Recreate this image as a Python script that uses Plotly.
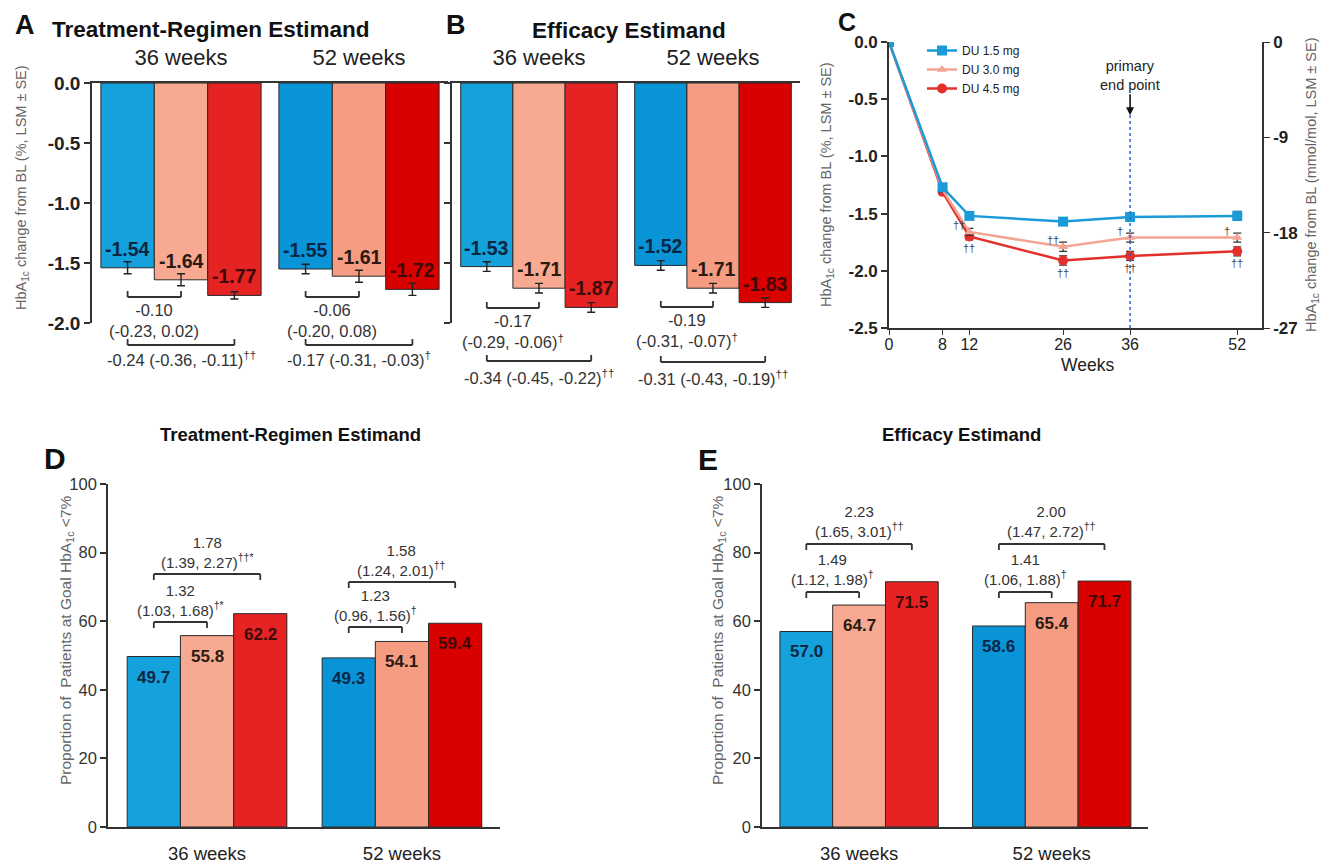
import plotly.graph_objects as go

W, H = 1329, 862
OFF = 8  # page body margin of the html page


def PX(p): return (p - OFF) / W
def PY(p): return 1 - (p - OFF) / H


FONT = "Arial, Liberation Sans, Helvetica, sans-serif"

# ---------------- data ----------------
timepoints = ["36 weeks", "52 weeks"]
dose_names = ["DU 1.5 mg", "DU 3.0 mg", "DU 4.5 mg"]

# Panel A: treatment-regimen estimand, HbA1c change (%)
a_du15 = [-1.54, -1.55]
a_du30 = [-1.64, -1.61]
a_du45 = [-1.77, -1.72]
a_se15 = [0.05, 0.04]
a_se30 = [0.05, 0.05]
a_se45 = [0.03, 0.05]
a_cmp30 = ["-0.10<br>(-0.23, 0.02)", "-0.06<br>(-0.20, 0.08)"]
a_cmp45 = ["-0.24 (-0.36, -0.11)<sup>††</sup>", "-0.17 (-0.31, -0.03)<sup>†</sup>"]

# Panel B: efficacy estimand, HbA1c change (%)
b_du15 = [-1.53, -1.52]
b_du30 = [-1.71, -1.71]
b_du45 = [-1.87, -1.83]
b_se15 = [0.04, 0.04]
b_se30 = [0.04, 0.04]
b_se45 = [0.04, 0.04]
b_cmp30 = ["-0.17<br>(-0.29, -0.06)<sup>†</sup>", "-0.19<br>(-0.31, -0.07)<sup>†</sup>"]
b_cmp45 = ["-0.34 (-0.45, -0.22)<sup>††</sup>", "-0.31 (-0.43, -0.19)<sup>††</sup>"]

hba_yticks = [0.0, -0.5, -1.0, -1.5, -2.0]
hba_yticktext = ["0.0", "-0.5", "-1.0", "-1.5", "-2.0"]

# Panel C: time course
weeks = [0, 8, 12, 26, 36, 52]
c_du15 = [0.0, -1.27, -1.52, -1.57, -1.53, -1.52]
c_du30 = [0.0, -1.29, -1.66, -1.79, -1.71, -1.71]
c_du45 = [0.0, -1.31, -1.70, -1.91, -1.87, -1.83]
c_se15 = [0.0, 0.02, 0.03, 0.03, 0.03, 0.04]
c_se30 = [0.0, 0.02, 0.03, 0.04, 0.04, 0.04]
c_se45 = [0.0, 0.02, 0.03, 0.04, 0.04, 0.04]
c_yticks = [0.0, -0.5, -1.0, -1.5, -2.0, -2.5]
c_yticktext = ["0.0", "-0.5", "-1.0", "-1.5", "-2.0", "-2.5"]
c_y2ticks = [0, -9, -18, -27]
c_y2ticktext = ["0", "-9", "-18", "-27"]
c_sig30 = ["", "", "††", "††", "†", "†"]
c_sig45 = ["", "", "††", "††", "††", "††"]

# Panel D: treatment-regimen estimand, % at goal HbA1c <7%
d_du15 = [49.7, 49.3]
d_du30 = [55.8, 54.1]
d_du45 = [62.2, 59.4]
d_cmp30 = ["1.32<br>(1.03, 1.68)<sup>†*</sup>", "1.23<br>(0.96, 1.56)<sup>†</sup>"]
d_cmp45 = ["1.78<br>(1.39, 2.27)<sup>††*</sup>", "1.58<br>(1.24, 2.01)<sup>††</sup>"]

# Panel E: efficacy estimand, % at goal HbA1c <7%
e_du15 = [57.0, 58.6]
e_du30 = [64.7, 65.4]
e_du45 = [71.5, 71.7]
e_cmp30 = ["1.49<br>(1.12, 1.98)<sup>†</sup>", "1.41<br>(1.06, 1.88)<sup>†</sup>"]
e_cmp45 = ["2.23<br>(1.65, 3.01)<sup>††</sup>", "2.00<br>(1.47, 2.72)<sup>††</sup>"]

pct_yticks = [0, 20, 40, 60, 80, 100]
pct_yticktext = ["0", "20", "40", "60", "80", "100"]

# ---------------- styles ----------------
bar_colors = [["#15a1dc", "#0a94d8"], ["#f8a991", "#f69c83"], ["#e42322", "#d90000"]]
label_colors = ["#0b2744", "#2b1a12", "#3d0a08"]
line_colors = ["#1b9ad8", "#f4a493", "#e3302a"]
symbols = ["square", "triangle-up", "circle"]
AXC = "#333333"

fig = go.Figure()


def add_bars(xa, ya, series, ses, w, fmt, lab_size, negative):
    for k, vals in enumerate(series):
        off = (k - 1.5) * w
        err = dict(type="data", array=ses[k], color="#222", thickness=1.4, width=4) if ses else None
        fig.add_trace(go.Bar(
            x=timepoints, y=vals, width=w, offset=off, xaxis=xa, yaxis=ya,
            marker=dict(color=bar_colors[k], line=dict(color="#2a2a2a", width=1)),
            error_y=err, showlegend=False, hoverinfo="skip", name=dose_names[k]))
        for i, v in enumerate(vals):
            fig.add_annotation(
                x=i + off + w / 2, y=v, xref=xa, yref=ya, text=fmt.format(v),
                showarrow=False, yanchor="bottom" if negative else "top",
                yshift=6 if negative else -9,
                font=dict(family=FONT, size=lab_size, color=label_colors[k], weight=700))


def bracket(xa, x0, x1, yp, leg):
    ln = dict(color="#333", width=1.8)
    fig.add_shape(type="line", xref=xa, yref="paper", x0=x0, x1=x1, y0=PY(yp), y1=PY(yp), line=ln)
    for xx in (x0, x1):
        fig.add_shape(type="line", xref=xa, yref="paper", x0=xx, x1=xx, y0=PY(yp), y1=PY(yp + leg), line=ln)


def cmp_text(xa, x, yp, text, anchor, size):
    fig.add_annotation(x=x, y=PY(yp), xref=xa, yref="paper", text=text, showarrow=False,
                       yanchor=anchor, font=dict(family=FONT, size=size, color="#333"))


# ---------------- Panel A & B ----------------
WAB = 0.3
add_bars("x", "y", [a_du15, a_du30, a_du45], [a_se15, a_se30, a_se45], WAB, "{:.2f}", 19.5, True)
add_bars("x2", "y2", [b_du15, b_du30, b_du45], [b_se15, b_se30, b_se45], WAB, "{:.2f}", 19.5, True)

a_br1 = [297, 297]
a_br2 = [345, 345]
b_br1 = [308, 307]
b_br2 = [361, 362]
for i in range(2):
    bracket("x", i - WAB, i, a_br1[i], -6)
    cmp_text("x", i - WAB / 2, a_br1[i] + 2, a_cmp30[i], "top", 16.5)
    bracket("x", i - WAB, i + WAB, a_br2[i], -6)
    cmp_text("x", i, a_br2[i] + 2, a_cmp45[i], "top", 16.5)
    bracket("x2", i - WAB, i, b_br1[i], -6)
    cmp_text("x2", i - WAB / 2, b_br1[i] + 2, b_cmp30[i], "top", 16.5)
    bracket("x2", i - WAB, i + WAB, b_br2[i], -6)
    cmp_text("x2", i, b_br2[i] + 4, b_cmp45[i], "top", 16.5)

# ---------------- Panel C ----------------
# drawn highest dose first so the DU 1.5 mg line lies on top (as in the source figure)
c_series = [c_du15, c_du30, c_du45]
c_ses = [c_se15, c_se30, c_se45]
for k in (2, 1, 0):
    fig.add_trace(go.Scatter(
        x=weeks, y=c_series[k], xaxis="x3", yaxis="y3", mode="lines+markers", name=dose_names[k],
        line=dict(color=line_colors[k], width=2.5),
        marker=dict(symbol=symbols[k], size=10 if k != 1 else 9, color=line_colors[k]),
        error_y=dict(type="data", array=c_ses[k], color="#333", thickness=1.2, width=4),
        hoverinfo="skip"))
fig.add_trace(go.Scatter(x=[], y=[], xaxis="x3", yaxis="y4", showlegend=False, hoverinfo="skip"))

fig.add_shape(type="line", xref="x3", yref="y3", x0=36, x1=36, y0=-2.5, y1=-0.6,
              line=dict(color="#2b63c4", width=1.5, dash="dot"))
fig.add_annotation(x=36, y=-0.64, xref="x3", yref="y3", text="primary<br>end point",
                   showarrow=True, arrowhead=2, arrowsize=1, arrowwidth=1.6, arrowcolor="#111",
                   ax=0, ay=-40, font=dict(family=FONT, size=14.5, color="#222"))
for i, wk in enumerate(weeks):
    if c_sig30[i]:
        fig.add_annotation(x=wk, y=c_du30[i], xref="x3", yref="y3", text=c_sig30[i], showarrow=False,
                           xshift=-10, yshift=7, font=dict(family=FONT, size=11, color="#444"))
    if c_sig45[i]:
        fig.add_annotation(x=wk, y=c_du45[i], xref="x3", yref="y3", text=c_sig45[i], showarrow=False,
                           yshift=-12, font=dict(family=FONT, size=11, color="#444"))

# ---------------- Panel D & E ----------------
WD, WE = 0.273, 0.274
add_bars("x4", "y5", [d_du15, d_du30, d_du45], None, WD, "{:.1f}", 17, False)
add_bars("x5", "y6", [e_du15, e_du30, e_du45], None, WE, "{:.1f}", 17, False)

d_br1 = [622, 627]
d_br2 = [574, 582]
e_br1 = [592, 592]
e_br2 = [544, 544]
for i in range(2):
    bracket("x4", i - WD, i, d_br1[i], 6)
    cmp_text("x4", i - WD / 2, d_br1[i] - 1, d_cmp30[i], "bottom", 15)
    bracket("x4", i - WD, i + WD, d_br2[i], 6)
    cmp_text("x4", i, d_br2[i] - 1, d_cmp45[i], "bottom", 15)
    bracket("x5", i - WE, i, e_br1[i], 6)
    cmp_text("x5", i - WE / 2, e_br1[i] - 2, e_cmp30[i], "bottom", 15)
    bracket("x5", i - WE, i + WE, e_br2[i], 6)
    cmp_text("x5", i, e_br2[i] - 2, e_cmp45[i], "bottom", 15)


# ---------------- axes ----------------
def xbar(dom, rng, side, size, standoff):
    return dict(domain=[PX(dom[0]), PX(dom[1])], range=rng, type="category", side=side,
                showline=True, linecolor=AXC, linewidth=1.6, ticks="", showgrid=False,
                zeroline=False, ticklabelstandoff=standoff, automargin=False,
                tickfont=dict(family=FONT, size=size, color="#222"), fixedrange=True)


def yax(dom, rng, vals, text, size, bold, show=True, color="#222"):
    return dict(domain=[PY(dom[1]), PY(dom[0])], range=rng, tickvals=vals, ticktext=text,
                showline=True, linecolor=AXC, linewidth=1.6, ticks="outside", ticklen=6,
                tickcolor=AXC, tickwidth=1.5, showgrid=False, zeroline=False,
                showticklabels=show, automargin=False,
                tickfont=dict(family=FONT, size=size, color=color, weight=700 if bold else 400))


fig.update_layout(
    xaxis=dict(xbar((92, 448), [-0.5, 1.5], "top", 22, 7), anchor="y"),
    yaxis=dict(yax((83, 323), [-2.0, 0.0], hba_yticks, hba_yticktext, 19, True), anchor="x"),
    xaxis2=dict(xbar((452, 800), [-0.5, 1.5], "top", 22, 7), anchor="y2"),
    yaxis2=dict(yax((83, 323), [-2.0, 0.0], hba_yticks, hba_yticktext, 19, True, show=False), anchor="x2"),
    xaxis3=dict(domain=[PX(889), PX(1262)], range=[0, 55.7], tickvals=weeks, anchor="y3",
                showline=True, linecolor=AXC, linewidth=1.6, ticks="outside", ticklen=5,
                tickcolor=AXC, showgrid=False, zeroline=False, automargin=False,
                ticklabelstandoff=-4,
                tickfont=dict(family=FONT, size=16, color="#222")),
    yaxis3=dict(yax((42, 328), [-2.5, 0.0], c_yticks, c_yticktext, 17, True), anchor="x3"),
    yaxis4=dict(domain=[PY(328), PY(42)], range=[-27, 0], tickvals=c_y2ticks, ticktext=c_y2ticktext,
                overlaying="y3", side="right", anchor="x3", showline=True, linecolor=AXC,
                linewidth=1.6, ticks="outside", ticklen=6, tickcolor=AXC, showgrid=False,
                zeroline=False, automargin=False,
                tickfont=dict(family=FONT, size=17, color="#222", weight=700)),
    xaxis4=dict(xbar((108, 500), [-0.508, 1.503], "bottom", 18.5, 9), anchor="y5"),
    yaxis5=dict(yax((484, 827), [0, 100], pct_yticks, pct_yticktext, 16.5, False, color="#333"), anchor="x4"),
    xaxis5=dict(xbar((762, 1148), [-0.504, 1.50], "bottom", 18.5, 9), anchor="y6"),
    yaxis6=dict(yax((484, 827), [0, 100], pct_yticks, pct_yticktext, 16.5, False, color="#333"), anchor="x5"),
)


# ---------------- titles & labels ----------------
def txt(x, y, text, size, bold=False, color="#111", angle=0, xanchor="center"):
    fig.add_annotation(x=PX(x), y=PY(y), xref="paper", yref="paper", text=text, showarrow=False,
                       textangle=angle, xanchor=xanchor, yanchor="middle",
                       font=dict(family=FONT, size=size, color=color, weight=700 if bold else 400))


txt(25, 25, "A", 27, True)
txt(50, 30, "Treatment-Regimen Estimand", 22.5, True, xanchor="left")
txt(456, 25, "B", 27, True)
txt(629, 31, "Efficacy Estimand", 22.5, True)
txt(847, 22, "C", 25, True)
txt(1087, 365, "Weeks", 17.5, color="#222")
txt(55, 458, "D", 30, True)
txt(290, 434, "Treatment-Regimen Estimand", 18.5, True)
txt(708, 459, "E", 30, True)
txt(961, 434, "Efficacy Estimand", 18.5, True)

ytitle_hba = "HbA<sub>1c</sub> change from BL (%, LSM ± SE)"
txt(22, 188, ytitle_hba, 14.5, color="#666", angle=-90)
txt(827, 185, ytitle_hba, 14.5, color="#666", angle=-90)
txt(1312, 185, "HbA<sub>1c</sub> change from BL (mmol/mol, LSM ± SE)", 14.5, color="#666", angle=-90)
ytitle_pct = "Proportion of  Patients at Goal HbA<sub>1c</sub> &lt;7%"
txt(66, 640, ytitle_pct, 15.5, color="#666", angle=-90)
txt(718, 640, ytitle_pct, 15.5, color="#666", angle=-90)

fig.update_layout(
    width=W, height=H, autosize=False,
    margin=dict(l=0, r=0, t=0, b=0, pad=0, autoexpand=False),
    paper_bgcolor="white", plot_bgcolor="white",
    font=dict(family=FONT, color="#222"),
    showlegend=True,
    legend=dict(x=PX(922), y=PY(36), xanchor="left", yanchor="top", bgcolor="rgba(0,0,0,0)",
                font=dict(family=FONT, size=12, color="#222"), tracegroupgap=0, itemwidth=30,
                traceorder="reversed"),
)

fig.write_html("out.html")
